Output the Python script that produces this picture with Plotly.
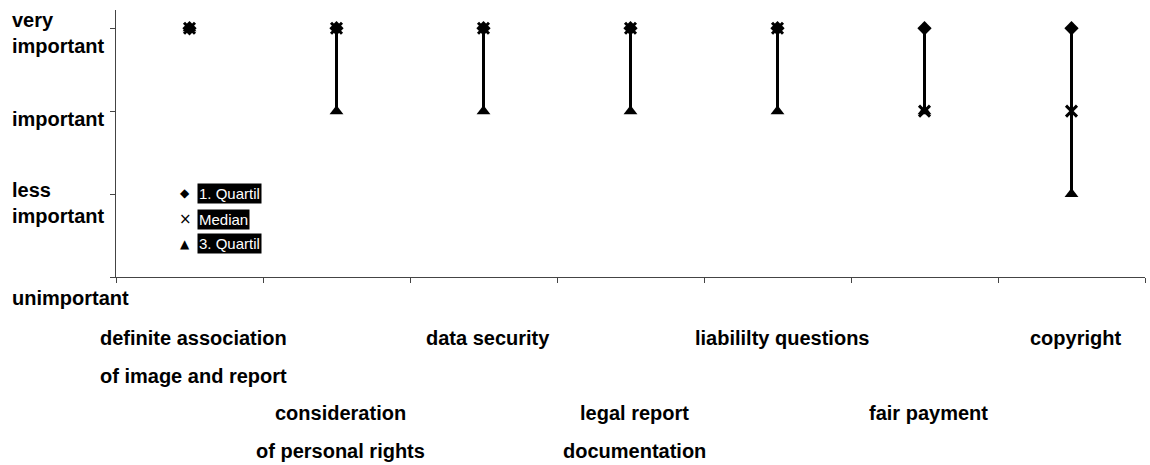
import plotly.graph_objects as go

# ---- data ----
categories = [
    ["definite association", "of image and report"],
    ["consideration", "of personal rights"],
    ["data security"],
    ["legal report", "documentation"],
    ["liabililty questions"],
    ["fair payment"],
    ["copyright"],
]
quartile1 = [4, 4, 4, 4, 4, 4, 4]
median = [4, 4, 4, 4, 4, 3, 3]
quartile3 = [4, 3, 3, 3, 3, 3, 2]
level_values = [4, 3, 2, 1]
level_labels = ["very<br>important", "important", "less<br>important", "unimportant"]
legend_names = ["1. Quartil", "Median", "3. Quartil"]

FONT = "Liberation Sans, Arial, Helvetica, sans-serif"
xs = list(range(len(categories)))

fig = go.Figure()

# high-low lines
lx, ly = [], []
for i in xs:
    lx += [i, i, None]
    ly += [quartile3[i], quartile1[i], None]
fig.add_trace(go.Scatter(x=lx, y=ly, mode="lines",
                         line=dict(color="black", width=3),
                         hoverinfo="skip", showlegend=False))

fig.add_trace(go.Scatter(x=xs, y=quartile3, mode="markers", name=legend_names[2],
                         marker=dict(symbol="triangle-up", size=12, color="black"),
                         showlegend=False))
fig.add_trace(go.Scatter(x=xs, y=quartile1, mode="markers", name=legend_names[0],
                         marker=dict(symbol="diamond", size=11, color="black"),
                         showlegend=False))
fig.add_trace(go.Scatter(x=xs, y=median, mode="markers", name=legend_names[1],
                         marker=dict(symbol="x-thin", size=11, color="black",
                                     line=dict(color="black", width=3)),
                         showlegend=False))

annotations = []
# y level labels (left aligned at left edge of figure)
yshifts = [-5, -8, -9, -21]
for v, lab, ys in zip(level_values, level_labels, yshifts):
    annotations.append(dict(
        x=-106 / 1029, xref="paper", y=v, yref="y", xanchor="left", yanchor="middle",
        align="left", yshift=ys, showarrow=False,
        text="<b>" + lab + "</b>", font=dict(family=FONT, size=20, color="black")))

# category labels, staggered rows
for i, lines in enumerate(categories):
    base = 0 if i % 2 == 0 else 2
    for j, line in enumerate(lines):
        row = base + j
        annotations.append(dict(
            x=i, xref="x", y=0, yref="paper", xanchor="center", yanchor="middle",
            xshift=4, yshift=-61 - 37.5 * row, showarrow=False,
            text="<b>" + line + "</b>", font=dict(family=FONT, size=20, color="black")))

# legend built from annotations
legend_symbols = ["\u25C6", "\u00D7", "\u25B2"]
legend_y = [0.3146, 0.2172, 0.1236]
for sym, nm, ly_ in zip(legend_symbols, legend_names, legend_y):
    annotations.append(dict(
        x=69 / 1029, xref="paper", y=ly_, yref="paper", xanchor="center", yanchor="middle",
        showarrow=False, text=sym,
        font=dict(family="DejaVu Sans, sans-serif", size=12 if sym != "\u00D7" else 15, color="black")))
    annotations.append(dict(
        x=81 / 1029, xref="paper", y=ly_, yref="paper", xanchor="left", yanchor="middle",
        showarrow=False, text=nm, bgcolor="black", borderpad=1,
        font=dict(family=FONT, size=15, color="white")))

fig.update_layout(
    width=1150, height=465,
    margin=dict(l=116, r=5, t=10, b=188),
    paper_bgcolor="white", plot_bgcolor="white",
    showlegend=False,
    xaxis=dict(range=[-0.5, 6.5], tickvals=[k - 0.5 for k in range(8)],
               ticktext=[""] * 8, ticks="outside", ticklen=5, tickcolor="#444",
               showgrid=False, zeroline=False, showline=True, linecolor="#444",
               linewidth=1),
    yaxis=dict(range=[1, 4.22], tickvals=level_values, ticktext=[""] * 4,
               ticks="outside", ticklen=5, tickcolor="#444",
               showgrid=False, zeroline=False, showline=True, linecolor="#444",
               linewidth=1),
    annotations=annotations,
)

fig.write_html("out.html", config={"displayModeBar": False},
               post_script="document.body.style.margin='0';document.body.style.overflow='hidden';")
